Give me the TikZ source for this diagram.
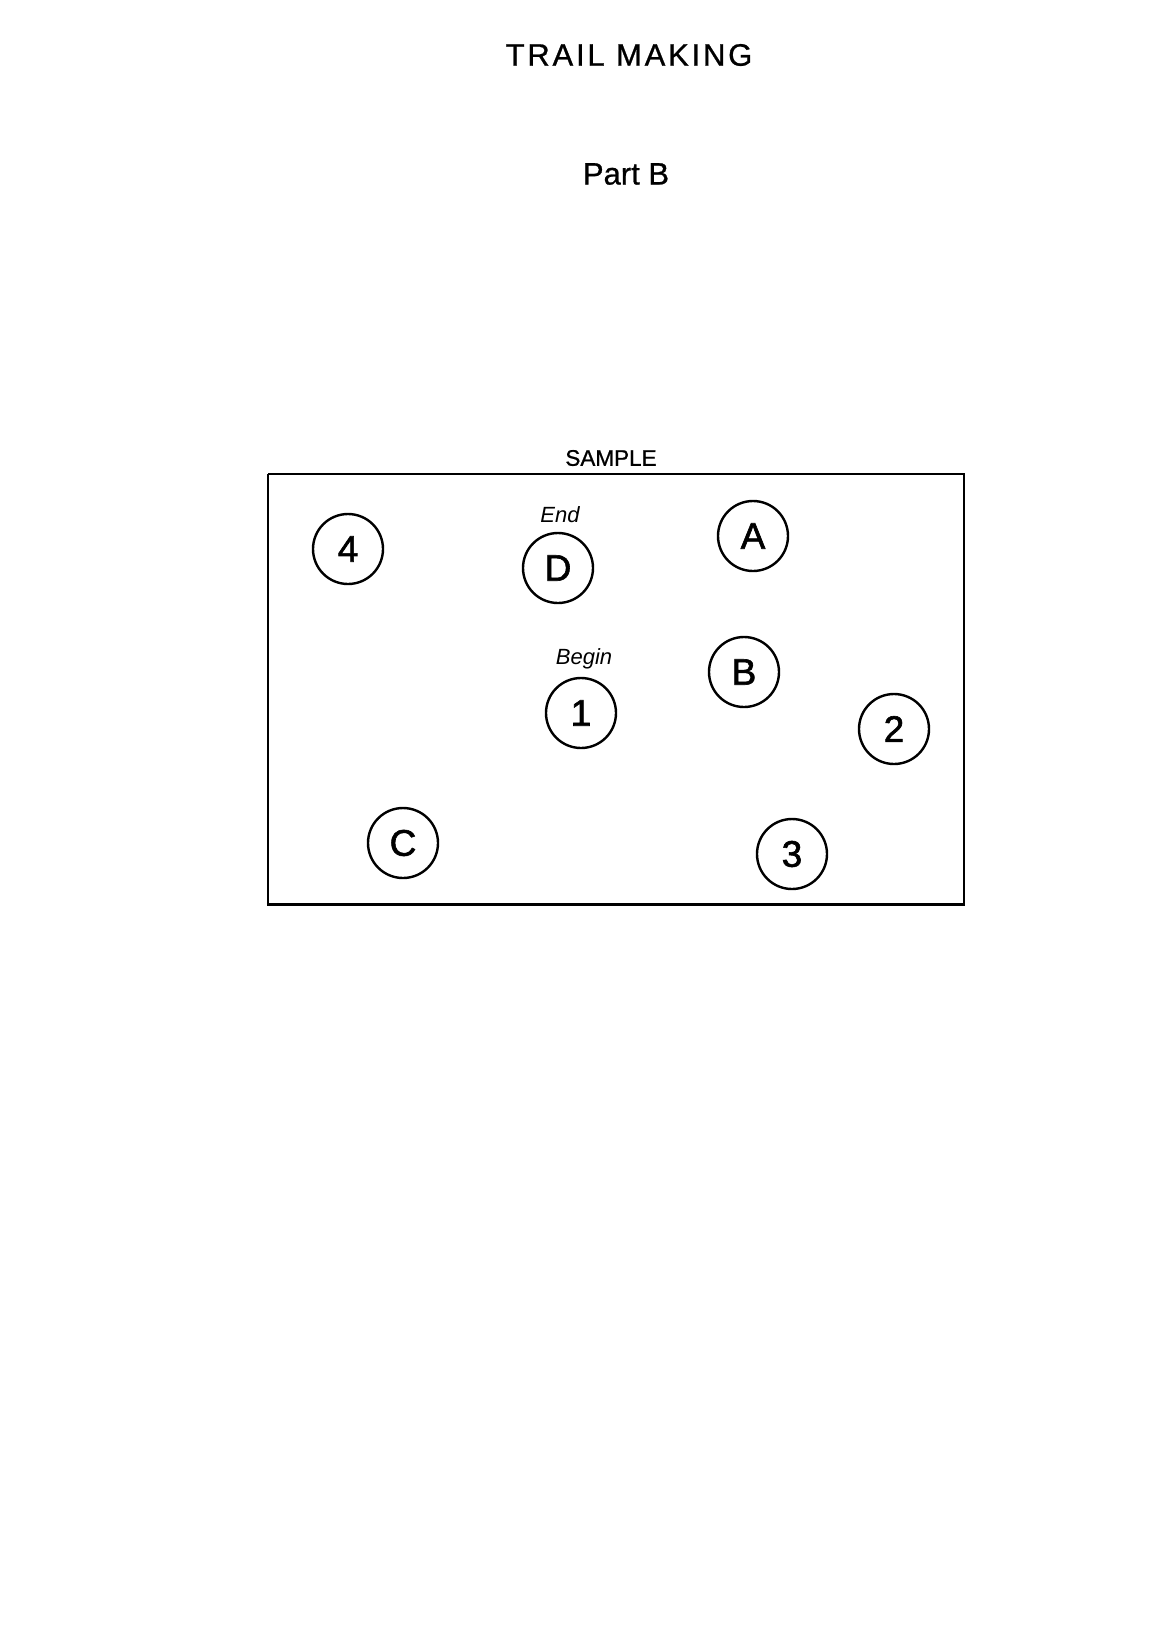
\documentclass[tikz,border=0pt]{standalone}
\usepackage{fontspec}
\setmainfont{Liberation Sans}
\newfontfamily\spacedfont[LetterSpace=9,FakeBold=0.8]{Liberation Sans}
\newfontfamily\heavyfont[FakeBold=1.6]{Liberation Sans}
\newfontfamily\mediumfont[FakeBold=0.8]{Liberation Sans}
\begin{document}
\begin{tikzpicture}[x=1pt,y=-1pt,
  lettercirc/.style={draw,circle,line width=2.4pt,minimum size=70pt,inner sep=0pt,
    font=\fontsize{37}{40}\selectfont\heavyfont},
  tag/.style={inner sep=0pt,font=\fontsize{22}{24}\selectfont\itshape},
  heading/.style={inner sep=0pt}]
\useasboundingbox[fill=white] (0,0) rectangle (1156,1628);
\node[heading,font=\fontsize{31}{34}\selectfont\spacedfont] (title) at (629,55) {TRAIL MAKING};
\node[heading,font=\fontsize{31}{34}\selectfont\mediumfont] (part) at (626,174) {Part B};
\node[heading,font=\fontsize{22.5}{24}\selectfont\mediumfont] (sample) at (611,458) {SAMPLE};
\draw[line width=2.2pt] (268,474) -- (964,474) -- (964,904);
\draw[line width=2.2pt] (268,474) -- (268,904);
\draw[line width=3pt] (266.9,904) -- (965.1,904);
\node[lettercirc] (n4) at (348,549) {4};
\node[lettercirc] (nD) at (558,568) {D};
\node[lettercirc] (nA) at (753,536) {A};
\node[lettercirc] (nB) at (744,672) {B};
\node[lettercirc] (n1) at (581,713) {1};
\node[lettercirc] (n2) at (894,729) {2};
\node[lettercirc] (nC) at (403,843) {C};
\node[lettercirc] (n3) at (792,854) {3};
\node[tag] (endlabel) at (560,515) {End};
\node[tag] (beginlabel) at (584,659) {Begin};
\end{tikzpicture}
\end{document}
